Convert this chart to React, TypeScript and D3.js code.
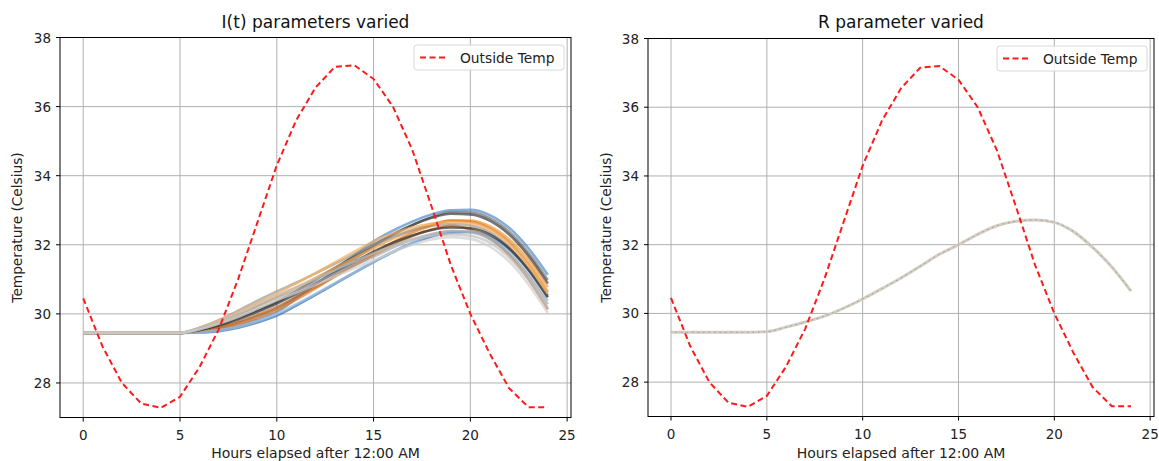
import React from "react";
import * as d3 from "d3";

// ---------- DATA ----------
const hours = [0, 1, 2, 3, 4, 5, 6, 7, 8, 9, 10, 11, 12, 13, 14, 15, 16, 17, 18, 19, 20, 21, 22, 23, 24];

const outsideTemp = [30.45, 29.05, 28.0, 27.4, 27.28, 27.6, 28.45, 29.55, 31.0, 32.65, 34.3, 35.6, 36.55,
  37.15, 37.2, 36.8, 36.0, 34.75, 33.1, 31.4, 30.0, 28.85, 27.85, 27.3, 27.3];

// hours 0-4: every run starts flat
const flat = [29.45, 29.45, 29.45, 29.45, 29.45];

// I(t) parameters varied: inside temperature, hours 5..24
const itC1 = [29.45, 29.48, 29.55, 29.66, 29.83, 30.05, 30.44, 30.85, 31.27, 31.69, 32.1, 32.41, 32.67, 32.88, 33.0, 33.01, 32.86, 32.49, 31.9, 31.13];
const itC2 = [29.45, 29.54, 29.68, 29.88, 30.11, 30.35, 30.66, 30.99, 31.33, 31.67, 32.0, 32.31, 32.57, 32.78, 32.9, 32.88, 32.7, 32.3, 31.68, 30.88];
const itC3 = [29.45, 29.57, 29.75, 29.98, 30.24, 30.5, 30.76, 31.04, 31.33, 31.62, 31.9, 32.18, 32.42, 32.6, 32.7, 32.7, 32.54, 32.16, 31.56, 30.78];
const itC4 = [29.45, 29.6, 29.82, 30.09, 30.38, 30.65, 30.9, 31.17, 31.45, 31.73, 32.0, 32.23, 32.42, 32.55, 32.6, 32.56, 32.36, 31.94, 31.3, 30.48];
const itC5 = [29.45, 29.51, 29.62, 29.77, 29.97, 30.2, 30.48, 30.78, 31.09, 31.4, 31.7, 31.99, 32.25, 32.44, 32.55, 32.45, 32.19, 31.71, 31.01, 30.13];
const itC6 = [29.45, 29.55, 29.71, 29.91, 30.15, 30.4, 30.61, 30.84, 31.08, 31.32, 31.55, 31.8, 32.0, 32.15, 32.22, 32.17, 31.95, 31.52, 30.86, 30.03];
const itC7 = [29.45, 29.47, 29.53, 29.63, 29.79, 30.0, 30.28, 30.58, 30.89, 31.2, 31.5, 31.8, 32.07, 32.28, 32.4, 32.38, 32.2, 31.8, 31.18, 30.38];
const itC8 = [29.45, 29.53, 29.66, 29.84, 30.06, 30.3, 30.58, 30.88, 31.19, 31.5, 31.8, 32.06, 32.27, 32.43, 32.5, 32.48, 32.3, 31.9, 31.28, 30.48];
const itC9 = [29.45, 29.59, 29.8, 30.05, 30.33, 30.6, 30.88, 31.18, 31.49, 31.8, 32.1, 32.32, 32.5, 32.61, 32.65, 32.62, 32.43, 32.02, 31.39, 30.58];
const itC10 = [29.45, 29.46, 29.5, 29.6, 29.75, 29.95, 30.24, 30.55, 30.87, 31.19, 31.5, 31.79, 32.05, 32.24, 32.35, 32.37, 32.23, 31.87, 31.29, 30.53];
const itC11 = [29.45, 29.5, 29.59, 29.74, 29.93, 30.15, 30.49, 30.85, 31.22, 31.59, 31.95, 32.28, 32.57, 32.8, 32.95, 32.94, 32.77, 32.38, 31.77, 30.98];
const itC12 = [29.45, 29.58, 29.77, 30.02, 30.29, 30.55, 30.77, 31.01, 31.26, 31.51, 31.75, 31.97, 32.15, 32.26, 32.3, 32.26, 32.06, 31.64, 31.0, 30.18];
const itC13 = [29.45, 29.49, 29.57, 29.7, 29.88, 30.1, 30.41, 30.74, 31.08, 31.42, 31.75, 32.07, 32.35, 32.56, 32.7, 32.67, 32.48, 32.07, 31.44, 30.63];
const itC14 = [29.45, 29.56, 29.73, 29.95, 30.2, 30.45, 30.67, 30.91, 31.16, 31.41, 31.65, 31.92, 32.15, 32.31, 32.4, 32.36, 32.16, 31.74, 31.1, 30.28];

const itSeries = [itC1, itC11, itC2, itC10, itC3, itC4, itC13, itC5, itC7, itC8, itC9, itC14, itC12, itC6];
const itColors = ["#4f8ad0", "#707070", "#3a3a3a", "#2f6fb0", "#ee9a3c", "#9a9a9a", "#e07b2a",
  "#c8661e", "#9dbde0", "#2e2e2e", "#f5b060", "#a8a8a8", "#bdbdbd", "#cfcfcf"];

// R parameter varied: all runs overlap
const rSeries = [29.45, 29.45, 29.45, 29.45, 29.45, 29.47, 29.6, 29.75, 29.92, 30.15, 30.42, 30.72, 31.03,
  31.37, 31.72, 32.0, 32.3, 32.55, 32.68, 32.72, 32.65, 32.38, 31.92, 31.35, 30.65];

const xTicks = [0, 5, 10, 15, 20, 25];
const yTicks = [28, 30, 32, 34, 36, 38];
const titles = ["I(t) parameters varied", "R parameter varied"];
const xLabel = "Hours elapsed after 12:00 AM";
const yLabel = "Temperature (Celsius)";
const legendLabel = "Outside Temp";

// ---------- LAYOUT ----------
const W = 1159;
const H = 461;
const FONT = "DejaVu Sans, sans-serif";

type PanelGeom = { left: number; right: number; top: number; bottom: number; ylabX: number };
const panels: PanelGeom[] = [
  { left: 60, right: 571, top: 37.5, bottom: 417.5, ylabX: 17 },
  { left: 648, right: 1154, top: 38.5, bottom: 416.5, ylabX: 606 },
];

function Panel({ g, idx }: { g: PanelGeom; idx: number }) {
  const x = d3.scaleLinear().domain([-1.2, 25.2]).range([g.left, g.right]);
  const y = d3.scaleLinear().domain([27, 38]).range([g.bottom, g.top]);
  const lineLin = d3.line<number>().x((_, i) => x(hours[i])).y((d) => y(d));
  const lineSmooth = d3.line<number>().x((_, i) => x(hours[i])).y((d) => y(d)).curve(d3.curveMonotoneX);
  const cx = (g.left + g.right) / 2;
  const clipId = `clip${idx}`;

  const legW = 150;
  const legH = 25;
  const legX = g.right - 7 - legW;
  const legY = g.top + 7.5;

  return (
    <g>
      <defs>
        <clipPath id={clipId}>
          <rect x={g.left} y={g.top} width={g.right - g.left} height={g.bottom - g.top} />
        </clipPath>
      </defs>
      {xTicks.map((t) => (
        <line key={"gx" + t} x1={x(t)} x2={x(t)} y1={g.top} y2={g.bottom} stroke="#b0b0b0" strokeWidth={1} />
      ))}
      {yTicks.map((t) => (
        <line key={"gy" + t} x1={g.left} x2={g.right} y1={y(t)} y2={y(t)} stroke="#b0b0b0" strokeWidth={1} />
      ))}
      <g clipPath={`url(#${clipId})`}>
        {idx === 0 ? (
          <g>
            {itSeries.map((s, i) => (
              <path key={i} d={lineSmooth(flat.concat(s)) || ""} fill="none" stroke={itColors[i]}
                strokeWidth={2.6} strokeOpacity={0.7} />
            ))}
            <path d={lineLin(flat.concat([29.45])) || ""} fill="none" stroke="#cbc6be" strokeWidth={2.6} />
          </g>
        ) : (
          <g>
            <path d={lineSmooth(rSeries) || ""} fill="none" stroke="#d2ccc2" strokeWidth={3} />
            <path d={lineSmooth(rSeries.slice(5)) ? "" : ""} fill="none" />
            <path d={lineSmooth(rSeries) || ""} fill="none" stroke="#8e8a78" strokeWidth={0.9}
              strokeDasharray="1.5 4" strokeDashoffset={-120} opacity={0.8} />
          </g>
        )}
        <path d={lineLin(outsideTemp) || ""} fill="none" stroke="#ff1a1a" strokeWidth={2}
          strokeDasharray="6 3.5" />
      </g>
      <rect x={g.left} y={g.top} width={g.right - g.left} height={g.bottom - g.top} fill="none"
        stroke="#000" strokeWidth={1} />
      {xTicks.map((t) => (
        <g key={"xt" + t}>
          <line x1={x(t)} x2={x(t)} y1={g.bottom} y2={g.bottom + 4} stroke="#000" strokeWidth={1} />
          <text x={x(t)} y={g.bottom + 22} textAnchor="middle" fontSize={13.5} fontFamily={FONT} fill="#222">{t}</text>
        </g>
      ))}
      {yTicks.map((t) => (
        <g key={"yt" + t}>
          <line x1={g.left - 4} x2={g.left} y1={y(t)} y2={y(t)} stroke="#000" strokeWidth={1} />
          <text x={g.left - 9} y={y(t) + 5} textAnchor="end" fontSize={13.5} fontFamily={FONT} fill="#222">{t}</text>
        </g>
      ))}
      <text x={cx} y={28} textAnchor="middle" fontSize={17} fontFamily={FONT} fill="#111">{titles[idx]}</text>
      <text x={cx} y={458} textAnchor="middle" fontSize={14} fontFamily={FONT} fill="#222">{xLabel}</text>
      <text transform={`translate(${g.ylabX + 5},${(g.top + g.bottom) / 2}) rotate(-90)`} textAnchor="middle"
        fontSize={13.7} fontFamily={FONT} fill="#222">{yLabel}</text>
      <rect x={legX} y={legY} width={legW} height={legH} rx={3} fill="#fff" fillOpacity={0.85}
        stroke="#d8d8d8" strokeWidth={1} />
      <line x1={legX + 6} x2={legX + 33} y1={legY + legH / 2} y2={legY + legH / 2} stroke="#ff1a1a"
        strokeWidth={2} strokeDasharray="6 3.5" />
      <text x={legX + 46} y={legY + legH / 2 + 5} fontSize={13.8} fontFamily={FONT} fill="#222">{legendLabel}</text>
    </g>
  );
}

export default function App() {
  return (
    <svg width={W} height={H} style={{ position: "absolute", left: 0, top: 0, background: "#fff" }}>
      <rect x={0} y={0} width={W} height={H} fill="#fff" />
      {panels.map((g, i) => (
        <Panel key={i} g={g} idx={i} />
      ))}
    </svg>
  );
}
